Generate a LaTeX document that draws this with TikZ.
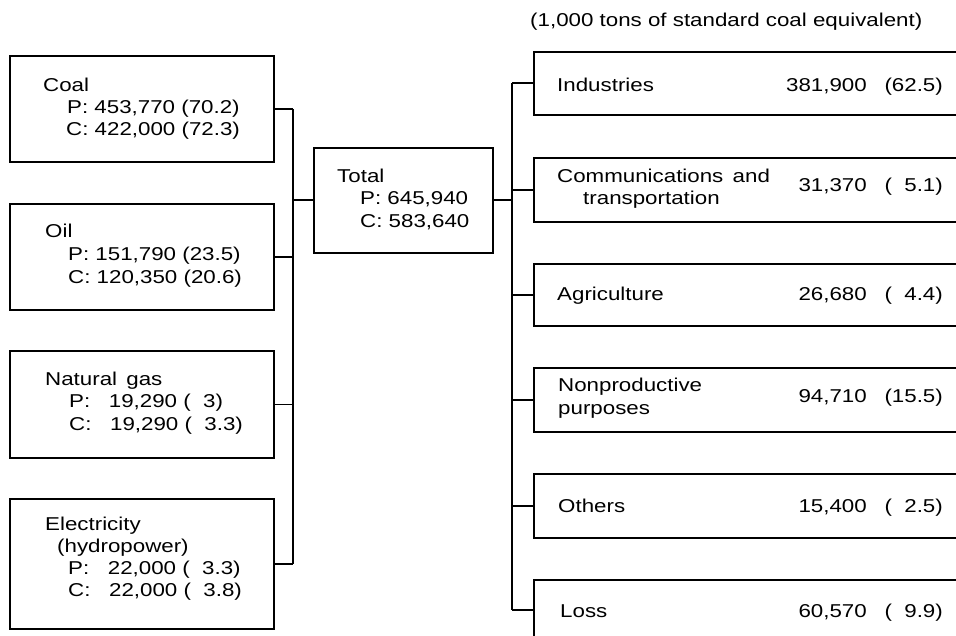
\documentclass[tikz,border=0pt]{standalone}
\usepackage{fontspec}
\setmainfont[FakeStretch=1.2]{Liberation Sans}
\begin{document}
\begin{tikzpicture}[x=1pt,y=-1pt,
  box/.style={draw=black, line width=1.7pt, inner sep=0pt, anchor=north west},
  conn/.style={draw=black, line width=1.7pt},
  txt/.style={anchor=base west, inner sep=0pt, font=\fontsize{18.6}{22}\selectfont},
  num/.style={anchor=base east, inner sep=0pt, font=\fontsize{18.6}{22}\selectfont}]
\useasboundingbox (0,0) rectangle (956,636);
\clip (0,0) rectangle (956,636);
\fill[white] (0,0) rectangle (956,636);

% header
\node[txt] (unit) at (530,27) {(1,000 tons of standard coal equivalent)};

% left boxes
\node[box, minimum width=264pt, minimum height=106pt] (coal) at (9,55) {};
\node[box, minimum width=264pt, minimum height=106pt] (oil) at (9,203) {};
\node[box, minimum width=264pt, minimum height=107pt] (gas) at (9,350) {};
\node[box, minimum width=264pt, minimum height=130pt] (elec) at (9,498) {};

% total
\node[box, minimum width=179pt, minimum height=105pt] (total) at (313,147) {};

% right boxes
\node[box, minimum width=440pt, minimum height=63pt] (ind) at (533,51) {};
\node[box, minimum width=440pt, minimum height=64pt] (comm) at (533,157) {};
\node[box, minimum width=440pt, minimum height=62pt] (agri) at (533,263) {};
\node[box, minimum width=440pt, minimum height=64pt] (nonp) at (533,367) {};
\node[box, minimum width=440pt, minimum height=64pt] (oth) at (533,473) {};
\node[box, minimum width=440pt, minimum height=60pt] (loss) at (533,579) {};

% buses
\coordinate (lbus) at (293,0);
\coordinate (rbus) at (512,0);
\foreach \b in {coal,oil,gas,elec}{\draw[conn] (\b.east) -- (\b.east -| lbus);}
\draw[conn] (coal.east -| lbus) -- (elec.east -| lbus);
\draw[conn] (total.west) -- (total.west -| lbus);
\draw[conn] (total.east) -- (total.east -| rbus);
\draw[conn] (ind.west -| rbus) -- (loss.west -| rbus);
\foreach \b in {ind,comm,agri,nonp,oth,loss}{\draw[conn] (\b.west) -- (\b.west -| rbus);}

% left texts
\node[txt] (coal1) at (43,92) {Coal};
\node[txt] (coal2) at (67,114) {P: 453,770 (70.2)};
\node[txt] (coal3) at (66,136) {C: 422,000 (72.3)};

\node[txt] (oil1) at (45,238) {Oil};
\node[txt] (oil2) at (68,261) {P: 151,790 (23.5)};
\node[txt] (oil3) at (68,284) {C: 120,350 (20.6)};

\node[txt] (gas1) at (45,385) {Natural\, gas};
\node[txt] (gas2) at (69,407) {P: \hphantom{0}19,290 (\hphantom{0}3)};
\node[txt] (gas3) at (69,430) {C: \hphantom{0}19,290 (\hphantom{0}3.3)};

\node[txt] (elec1) at (45,530) {Electricity};
\node[txt] (elec2) at (57,552) {(hydropower)};
\node[txt] (elec3) at (68,574) {P: \hphantom{0}22,000 (\hphantom{0}3.3)};
\node[txt] (elec4) at (68,596) {C: \hphantom{0}22,000 (\hphantom{0}3.8)};

% total texts
\node[txt] (tot1) at (337,183) {Total};
\node[txt] (tot2) at (360,205) {P: 645,940};
\node[txt] (tot3) at (360,228) {C: 583,640};

% right texts
\node[txt] (indL) at (557,92) {Industries};
\node[num] (indN) at (867,92) {381,900};
\node[num] (indP) at (943,92) {(62.5)};

\node[txt] (commL1) at (557,183) {Communications\, and};
\node[txt] (commL2) at (583,205) {transportation};
\node[num] (commN) at (867,192) {31,370};
\node[num] (commP) at (943,192) {(\hphantom{0}5.1)};

\node[txt] (agriL) at (557,301) {Agriculture};
\node[num] (agriN) at (867,301) {26,680};
\node[num] (agriP) at (943,301) {(\hphantom{0}4.4)};

\node[txt] (nonpL1) at (558,391) {Nonproductive};
\node[txt] (nonpL2) at (558,414) {purposes};
\node[num] (nonpN) at (867,402) {94,710};
\node[num] (nonpP) at (943,402) {(15.5)};

\node[txt] (othL) at (558,512) {Others};
\node[num] (othN) at (867,512) {15,400};
\node[num] (othP) at (943,512) {(\hphantom{0}2.5)};

\node[txt] (lossL) at (560,617) {Loss};
\node[num] (lossN) at (867,617) {60,570};
\node[num] (lossP) at (943,617) {(\hphantom{0}9.9)};
\end{tikzpicture}
\end{document}
